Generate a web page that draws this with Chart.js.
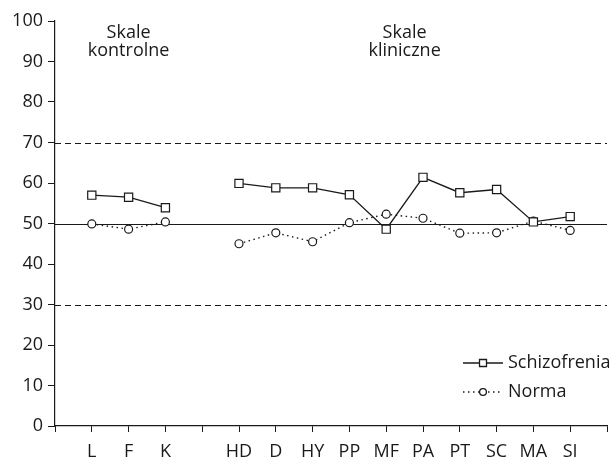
<!DOCTYPE html>
<html>
<head>
<meta charset="utf-8">
<script src="https://cdn.jsdelivr.net/npm/chart.js@4"></script>
<style>
  html, body { margin: 0; padding: 0; background: #fff; }
  #wrap { width: 616px; height: 460px; }
</style>
</head>
<body>
<div id="wrap"><canvas id="myChart" width="616" height="460"></canvas></div>
<script>
const ctx = document.getElementById('myChart');

// data
const categories = ['', 'L', 'F', 'K', '', 'HD', 'D', 'HY', 'PP', 'MF', 'PA', 'PT', 'SC', 'MA', 'SI', ''];
const schizofrenia = [null, 57.0, 56.5, 53.9, null, 59.9, 58.8, 58.8, 57.1, 48.6, 61.4, 57.6, 58.4, 50.4, 51.7, null];
const norma = [null, 49.9, 48.6, 50.4, null, 45.0, 47.7, 45.5, 50.2, 52.3, 51.3, 47.6, 47.7, 50.6, 48.3, null];
const yMin = 0, yMax = 100, yStep = 10;
const refLines = [30, 50, 70];
const groupTitles = [
    { lines: ['Skale', 'kontrolne'], from: 'L', to: 'K' },
    { lines: ['Skale', 'kliniczne'], from: 'HD', to: 'SI' }
];

const ink = '#1a1a1a';
const font = "'Open Sans', 'Noto Sans', sans-serif";

const extras = {
    id: 'extras',
    beforeDatasetsDraw(chart) {
        const c = chart.ctx, a = chart.chartArea, y = chart.scales.y;
        c.save();
        c.strokeStyle = ink;
        c.lineWidth = 1.2;
        refLines.forEach(v => {
            const py = Math.round(y.getPixelForValue(v)) + 0.5;
            c.setLineDash(v === 50 ? [] : [6, 4]);
            c.beginPath();
            c.moveTo(a.left, py);
            c.lineTo(a.right, py);
            c.stroke();
        });
        c.restore();
    },
    afterDraw(chart) {
        const c = chart.ctx, x = chart.scales.x;
        c.save();
        c.fillStyle = ink;
        c.font = '18px ' + font;
        c.textAlign = 'center';
        c.textBaseline = 'alphabetic';
        groupTitles.forEach(g => {
            const cx = (x.getPixelForValue(categories.indexOf(g.from)) + x.getPixelForValue(categories.indexOf(g.to))) / 2;
            g.lines.forEach((t, i) => c.fillText(t, cx, 38 + i * 18));
        });

        // legend
        const items = [
            { label: 'Schizofrenia', dash: [], shape: 'rect', y: 363 },
            { label: 'Norma', dash: [1.5, 3.5], shape: 'circle', y: 392 }
        ];
        items.forEach(it => {
            c.strokeStyle = ink;
            c.lineWidth = 1.3;
            c.setLineDash(it.dash);
            c.beginPath();
            c.moveTo(463, it.y);
            c.lineTo(503, it.y);
            c.stroke();
            c.setLineDash([]);
            c.fillStyle = '#fff';
            c.beginPath();
            if (it.shape === 'rect') c.rect(479.5, it.y - 3.5, 7, 7);
            else c.arc(483, it.y, 3.4, 0, Math.PI * 2);
            c.fill();
            c.stroke();
            c.fillStyle = ink;
            c.textAlign = 'left';
            c.textBaseline = 'middle';
            c.fillText(it.label, 508, it.y);
        });
        c.restore();
    }
};

new Chart(ctx, {
    type: 'line',
    data: {
        labels: categories,
        datasets: [{
            label: 'Schizofrenia',
            data: schizofrenia,
            borderColor: ink,
            borderWidth: 1.3,
            pointStyle: 'rect',
            pointRadius: 5.8,
            pointBorderWidth: 1.2,
            pointBackgroundColor: '#fff',
            pointBorderColor: ink,
            spanGaps: false,
            tension: 0
        }, {
            label: 'Norma',
            data: norma,
            borderColor: ink,
            borderWidth: 1.4,
            borderDash: [1.5, 3.5],
            pointStyle: 'circle',
            pointRadius: 4,
            pointBorderWidth: 1.2,
            pointBackgroundColor: '#fff',
            pointBorderColor: ink,
            spanGaps: false,
            tension: 0
        }]
    },
    options: {
        responsive: false,
        animation: false,
        devicePixelRatio: 1,
        layout: { padding: { top: 21, right: 2, left: 0, bottom: 0 } },
        plugins: { legend: { display: false }, tooltip: { enabled: false } },
        scales: {
            x: {
                offset: false,
                afterFit(s) { s.height = 34; },
                grid: { drawOnChartArea: false, drawTicks: true, tickLength: 6, color: ink, lineWidth: 1 },
                border: { color: ink, width: 1.2 },
                ticks: { color: ink, font: { family: font, size: 18 }, padding: 9, maxRotation: 0, autoSkip: false }
            },
            y: {
                min: yMin,
                max: yMax,
                afterFit(s) { s.width = 55; },
                grid: { drawOnChartArea: false, drawTicks: true, tickLength: 7, color: ink, lineWidth: 1 },
                border: { color: ink, width: 1.2 },
                ticks: { stepSize: yStep, color: ink, font: { family: font, size: 18 }, padding: 5 }
            }
        }
    },
    plugins: [extras]
});
</script>
</body>
</html>
